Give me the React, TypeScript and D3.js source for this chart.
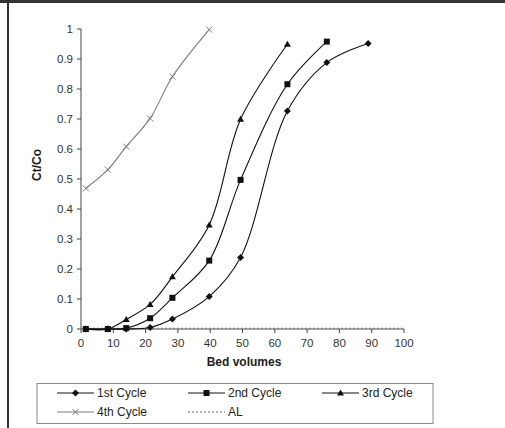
import React from "react";
import * as d3 from "d3";

const bv = [1.5, 8.3, 14, 21.4, 28.3, 39.7, 49.4, 63.9, 76.1, 88.9];
const cycle1 = [0, 0, 0, 0.005, 0.033, 0.108, 0.238, 0.727, 0.888, 0.952];
const cycle2 = [0, 0, 0.003, 0.036, 0.104, 0.228, 0.497, 0.816, 0.958];
const cycle3 = [0, 0, 0.032, 0.082, 0.174, 0.347, 0.699, 0.949];
const cycle4 = [0.469, 0.531, 0.608, 0.702, 0.841, 0.998];
const alLevel = [0, 100];
const xTicks = [0, 10, 20, 30, 40, 50, 60, 70, 80, 90, 100];
const yTicks = [0, 0.1, 0.2, 0.3, 0.4, 0.5, 0.6, 0.7, 0.8, 0.9, 1];
const seriesNames = ["1st Cycle", "2nd Cycle", "3rd Cycle", "4th Cycle", "AL"];

const W = 505, H = 428;
const x = d3.scaleLinear().domain([0, 100]).range([81, 404]);
const y = d3.scaleLinear().domain([0, 1]).range([329, 29]);
const font = "'Liberation Sans', Arial, sans-serif";

type Pt = [number, number];
const toPts = (vals: number[]): Pt[] => vals.map((v, i) => [bv[i], v]);

const line = d3
  .line<Pt>()
  .x((d) => x(d[0]))
  .y((d) => y(d[1]))
  .curve(d3.curveCatmullRom.alpha(0.5));

function Marker({ kind, cx, cy, color }: { kind: string; cx: number; cy: number; color: string }) {
  if (kind === "diamond")
    return <path d={`M${cx},${cy - 3.5}L${cx + 3.5},${cy}L${cx},${cy + 3.5}L${cx - 3.5},${cy}Z`} fill={color} />;
  if (kind === "square") return <rect x={cx - 3} y={cy - 3} width={6} height={6} fill={color} />;
  if (kind === "triangle")
    return <path d={`M${cx},${cy - 3.5}L${cx + 3.5},${cy + 2.5}L${cx - 3.5},${cy + 2.5}Z`} fill={color} />;
  if (kind === "x")
    return (
      <path
        d={`M${cx - 3},${cy - 3}L${cx + 3},${cy + 3}M${cx - 3},${cy + 3}L${cx + 3},${cy - 3}`}
        stroke={color}
        strokeWidth={1}
      />
    );
  return null;
}

const series = [
  { name: seriesNames[0], data: toPts(cycle1), kind: "diamond", color: "#111" },
  { name: seriesNames[1], data: toPts(cycle2), kind: "square", color: "#111" },
  { name: seriesNames[2], data: toPts(cycle3), kind: "triangle", color: "#111" },
  { name: seriesNames[3], data: toPts(cycle4), kind: "x", color: "#7a7a7a" },
];

export default function App() {
  const legendItems = [
    { ...series[0], lx: 57, ly: 393 },
    { ...series[1], lx: 188, ly: 393 },
    { ...series[2], lx: 322, ly: 393 },
    { ...series[3], lx: 57, ly: 412 },
    { name: seriesNames[4], kind: "dot", color: "#666", lx: 188, ly: 412 },
  ];
  return (
    <svg
      width={W}
      height={H}
      style={{ position: "absolute", left: 0, top: 0, background: "#fff" }}
      fontFamily={font}
    >
      <rect x={0} y={0} width={W} height={H} fill="#fff" />
      {/* frame */}
      <line x1={0} x2={W} y1={1.5} y2={1.5} stroke="#333" strokeWidth={3} />
      <line x1={8} x2={8} y1={0} y2={H} stroke="#333" strokeWidth={2} />

      {/* y axis */}
      <line x1={x(0)} x2={x(0)} y1={y(0)} y2={y(1)} stroke="#444" strokeWidth={1} />
      {yTicks.map((t) => (
        <g key={t}>
          <line x1={x(0) - 4} x2={x(0)} y1={y(t)} y2={y(t)} stroke="#444" />
          <text x={x(0) - 8} y={y(t)} dy="0.35em" textAnchor="end" fontSize={11.5} fill="#333">
            {d3.format("")(t)}
          </text>
        </g>
      ))}
      {/* x axis */}
      <line x1={x(0)} x2={x(100)} y1={y(0)} y2={y(0)} stroke="#555" strokeWidth={1} />
      {xTicks.map((t) => (
        <g key={t}>
          <line x1={x(t)} x2={x(t)} y1={y(0)} y2={y(0) + 4} stroke="#444" />
          <text x={x(t)} y={y(0) + 18} textAnchor="middle" fontSize={11.5} fill="#333">
            {t}
          </text>
        </g>
      ))}
      {/* AL */}
      <line
        x1={x(alLevel[0])}
        x2={x(alLevel[1])}
        y1={y(0) - 0.5}
        y2={y(0) - 0.5}
        stroke="#888"
        strokeWidth={1.5}
        strokeDasharray="2,2"
      />

      {/* axis titles */}
      <text x={244} y={366} textAnchor="middle" fontSize={12} fontWeight="bold" fill="#222">
        Bed volumes
      </text>
      <text
        transform={`translate(41,${y(0.5) - 14}) rotate(-90)`}
        textAnchor="middle"
        fontSize={12}
        fontWeight="bold"
        fill="#222"
      >
        Ct/Co
      </text>

      {/* series */}
      {series.map((s) => (
        <g key={s.name}>
          <path d={line(s.data) || ""} fill="none" stroke={s.color} strokeWidth={1.1} />
          {s.data.map((d, i) => (
            <Marker key={i} kind={s.kind} cx={x(d[0])} cy={y(d[1])} color={s.color} />
          ))}
        </g>
      ))}

      {/* legend */}
      <rect x={37} y={383.5} width={396} height={40} fill="#fff" stroke="#888" strokeWidth={1} />
      {legendItems.map((it) => (
        <g key={it.name}>
          <line
            x1={it.lx}
            x2={it.lx + 37}
            y1={it.ly}
            y2={it.ly}
            stroke={it.color}
            strokeWidth={1}
            strokeDasharray={it.kind === "dot" ? "2,2" : undefined}
          />
          <Marker kind={it.kind} cx={it.lx + 18.5} cy={it.ly} color={it.color} />
          <text x={it.lx + 40} y={it.ly} dy="0.35em" fontSize={12} fill="#222">
            {it.name}
          </text>
        </g>
      ))}
    </svg>
  );
}
